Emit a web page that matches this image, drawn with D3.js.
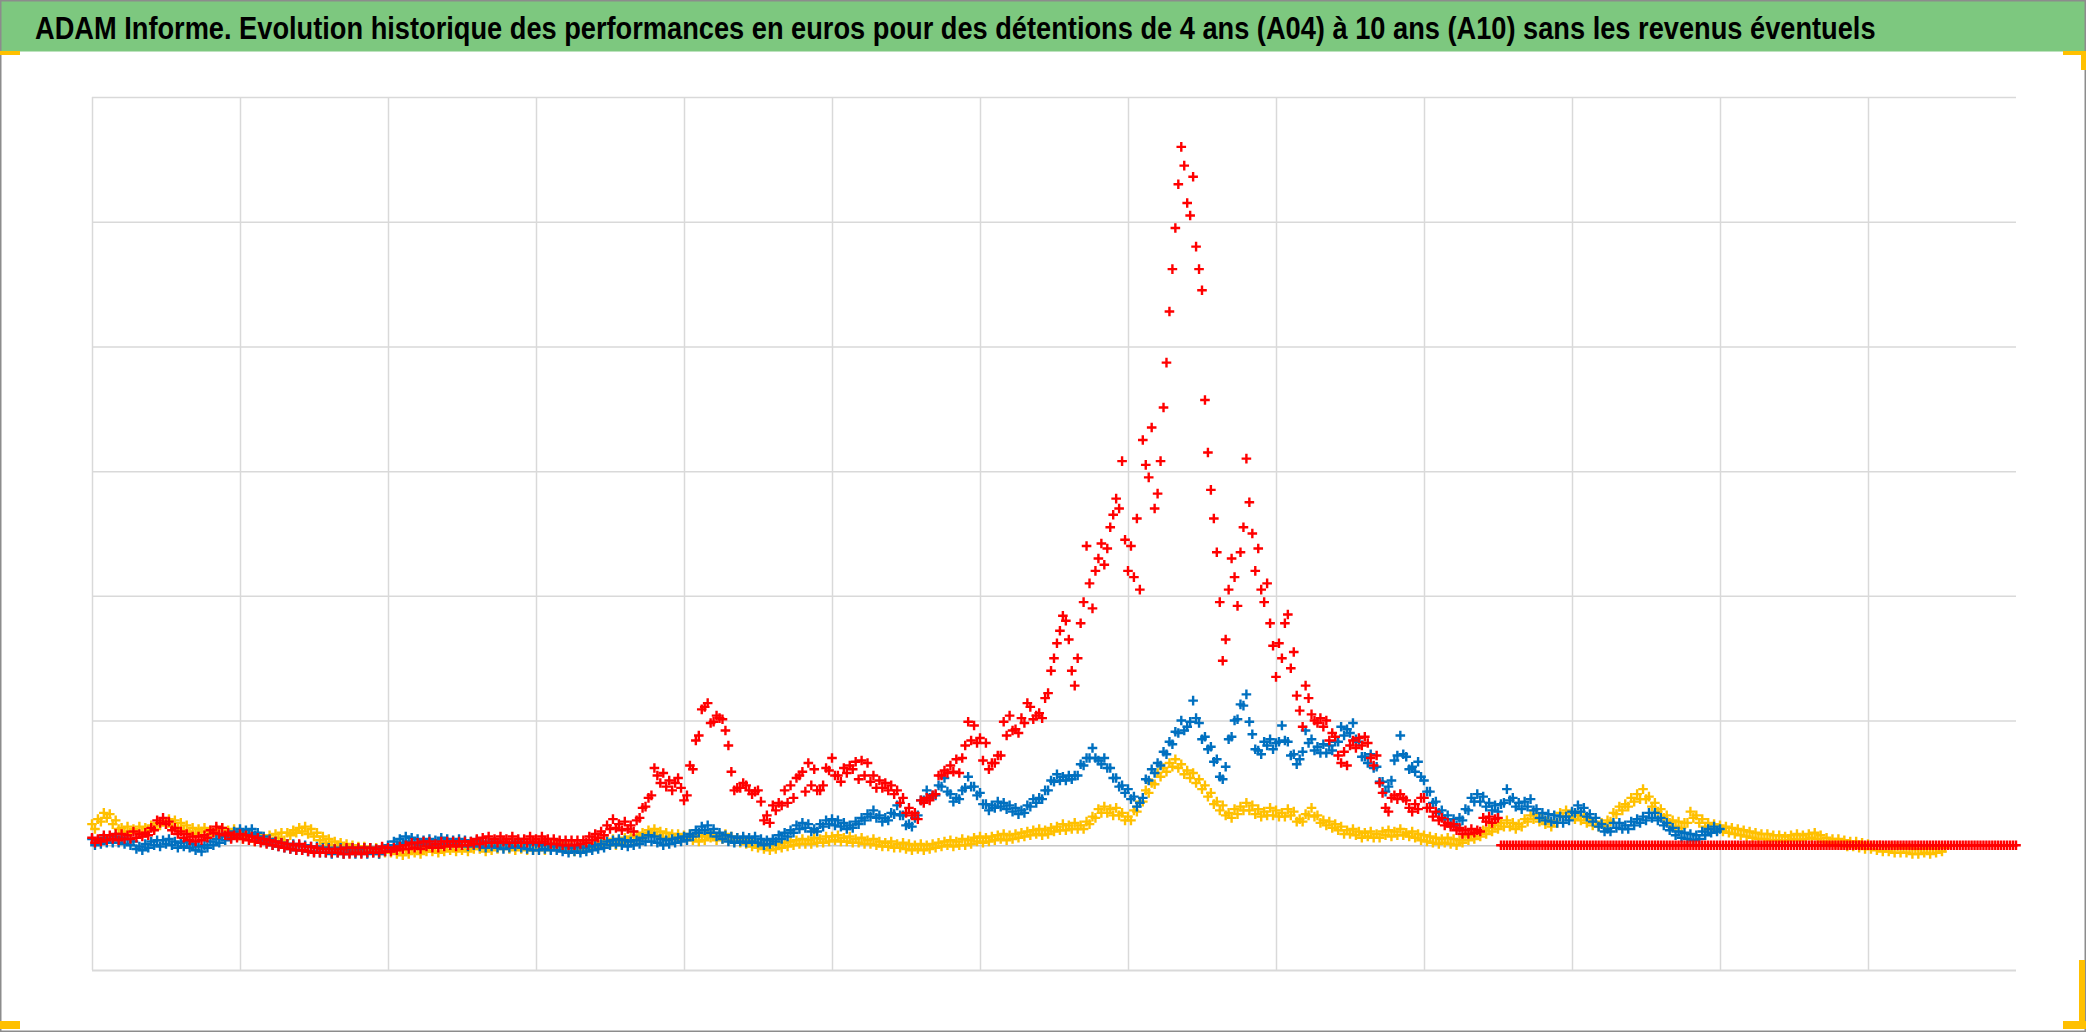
<!DOCTYPE html>
<html><head><meta charset="utf-8">
<script src="https://cdn.jsdelivr.net/npm/d3@7"></script>
<style>html,body{margin:0;padding:0;background:#fff;}svg{display:block;}</style>
</head><body>
<svg id="chart" width="2086" height="1032"></svg>
<script>
const title = "ADAM Informe. Evolution historique des performances en euros pour des détentions de 4 ans (A04) à 10 ans (A10) sans les revenus éventuels";
const xTicks = [0,1,2,3,4,5,6,7,8,9,10,11,12];
const yTicks = [-1,0,1,2,3,4,5,6];
const seriesNames = ["A04","A07","A10"];
const seriesSteps = [0.02, 0.02, 0.02];

const yellowValues = [
0.17,0.13,0.21,0.19,0.26,0.22,0.25,0.17,0.20,0.13,0.14,0.11,0.15,0.10,0.13,0.10,0.15,0.10,0.14,0.12,0.16,0.13,0.18,0.16,0.19,0.17,0.21,0.15,0.20,0.14,0.18,0.12,0.16,0.11,0.14,0.09,0.13,0.11,0.14,0.08,0.12,0.10,0.13,0.08,0.14,0.09,0.12,0.10,0.13,0.07,
0.11,0.05,0.10,0.07,0.09,0.03,0.08,0.05,0.07,0.04,0.08,0.03,0.09,0.06,0.10,0.04,0.10,0.08,0.12,0.10,0.14,0.11,0.15,0.09,0.13,0.07,0.10,0.04,0.07,0.02,0.05,0.00,0.03,-0.01,0.02,-0.03,0.01,-0.04,0.00,-0.05,-0.01,-0.04,-0.01,-0.06,-0.02,-0.05,-0.02,-0.07,-0.03,-0.06,
-0.03,-0.06,-0.04,-0.07,-0.03,-0.08,-0.04,-0.07,-0.03,-0.06,-0.02,-0.07,-0.03,-0.05,-0.02,-0.05,-0.01,-0.06,-0.02,-0.05,-0.01,-0.04,0.00,-0.05,-0.01,-0.04,0.00,-0.05,-0.01,-0.03,0.00,-0.03,0.00,-0.05,0.01,-0.04,0.00,-0.03,0.01,-0.02,0.02,-0.03,0.01,-0.04,0.00,-0.03,0.01,-0.04,0.01,-0.04,
0.00,-0.03,0.01,-0.04,0.00,-0.03,0.01,-0.02,0.02,-0.03,0.01,-0.04,0.00,-0.05,-0.01,-0.04,0.00,-0.03,0.01,-0.02,0.02,-0.01,0.03,0.00,0.04,0.01,0.05,0.00,0.04,0.02,0.06,0.03,0.07,0.04,0.08,0.05,0.10,0.07,0.12,0.10,0.13,0.08,0.11,0.06,0.10,0.05,0.09,0.06,0.09,0.04,
0.08,0.05,0.09,0.04,0.08,0.03,0.07,0.04,0.08,0.06,0.09,0.04,0.08,0.05,0.09,0.04,0.07,0.03,0.06,0.02,0.05,0.01,0.04,-0.01,0.02,-0.02,0.01,-0.03,0.00,-0.04,0.00,-0.03,0.01,-0.02,0.02,-0.01,0.03,0.00,0.04,0.01,0.05,0.01,0.04,0.01,0.06,0.02,0.05,0.02,0.07,0.03,
0.07,0.04,0.08,0.03,0.06,0.03,0.07,0.02,0.05,0.02,0.06,0.01,0.04,0.01,0.05,0.00,0.03,-0.01,0.02,-0.01,0.03,-0.02,0.01,-0.02,0.02,-0.03,0.01,-0.04,0.00,-0.03,0.01,-0.04,0.00,-0.03,0.01,-0.02,0.02,-0.01,0.03,0.00,0.04,-0.01,0.03,0.00,0.05,0.00,0.04,0.01,0.06,0.03,
0.07,0.02,0.06,0.03,0.07,0.04,0.08,0.05,0.09,0.04,0.08,0.05,0.09,0.06,0.10,0.07,0.11,0.08,0.12,0.09,0.13,0.08,0.12,0.09,0.14,0.11,0.15,0.12,0.17,0.12,0.16,0.13,0.18,0.13,0.16,0.13,0.19,0.17,0.23,0.22,0.29,0.26,0.31,0.26,0.29,0.24,0.30,0.24,0.26,0.20,
0.23,0.20,0.28,0.27,0.35,0.35,0.44,0.42,0.50,0.49,0.58,0.55,0.62,0.59,0.66,0.63,0.69,0.62,0.65,0.57,0.60,0.54,0.58,0.50,0.53,0.45,0.48,0.39,0.42,0.33,0.35,0.28,0.32,0.24,0.26,0.22,0.29,0.25,0.31,0.28,0.34,0.28,0.32,0.25,0.29,0.23,0.27,0.24,0.30,0.24,
0.28,0.23,0.26,0.23,0.29,0.24,0.27,0.19,0.21,0.19,0.25,0.24,0.30,0.23,0.24,0.18,0.20,0.16,0.19,0.14,0.17,0.12,0.15,0.09,0.12,0.09,0.13,0.08,0.11,0.06,0.10,0.07,0.11,0.06,0.09,0.06,0.11,0.08,0.12,0.07,0.11,0.08,0.13,0.08,0.10,0.07,0.11,0.06,0.09,0.04,
0.08,0.03,0.07,0.02,0.06,0.01,0.05,0.02,0.06,0.01,0.05,0.00,0.04,0.02,0.07,0.04,0.08,0.05,0.10,0.07,0.12,0.09,0.14,0.11,0.16,0.13,0.18,0.15,0.20,0.15,0.18,0.13,0.17,0.15,0.21,0.19,0.24,0.21,0.25,0.19,0.22,0.17,0.20,0.15,0.19,0.18,0.26,0.23,0.28,0.23,
0.26,0.21,0.24,0.20,0.23,0.18,0.21,0.16,0.19,0.15,0.18,0.15,0.20,0.19,0.26,0.25,0.31,0.28,0.33,0.31,0.38,0.35,0.41,0.37,0.45,0.37,0.39,0.31,0.34,0.27,0.29,0.22,0.24,0.18,0.20,0.15,0.19,0.14,0.18,0.18,0.27,0.22,0.24,0.18,0.21,0.15,0.18,0.13,0.17,0.12,
0.16,0.11,0.15,0.10,0.14,0.09,0.13,0.08,0.12,0.07,0.11,0.06,0.10,0.05,0.09,0.05,0.09,0.04,0.08,0.04,0.08,0.03,0.07,0.04,0.08,0.05,0.09,0.04,0.08,0.05,0.09,0.06,0.10,0.05,0.08,0.03,0.06,0.02,0.05,0.01,0.05,0.00,0.04,-0.01,0.03,-0.01,0.03,-0.02,0.02,-0.03,
0.01,-0.03,0.00,-0.04,0.00,-0.05,-0.01,-0.05,-0.01,-0.06,-0.01,-0.06,-0.02,-0.06,-0.02,-0.07,-0.03,-0.07,-0.03,-0.06,-0.02,-0.07,-0.03,-0.06,-0.01,-0.05,-0.02
];

const blueValues = [
0.05,0.00,0.04,0.01,0.06,0.02,0.05,0.02,0.07,0.02,0.06,0.01,0.05,0.00,0.03,-0.03,-0.01,-0.04,0.01,-0.02,0.03,0.00,0.04,-0.01,0.04,0.01,0.05,0.00,0.03,-0.02,0.02,-0.01,0.03,-0.02,0.01,-0.04,-0.01,-0.05,0.00,-0.02,0.03,0.00,0.05,0.02,0.07,0.04,0.09,0.06,0.11,0.08,
0.13,0.09,0.12,0.09,0.13,0.08,0.10,0.04,0.07,0.02,0.05,0.00,0.03,-0.01,0.02,-0.02,0.01,-0.03,0.01,-0.04,0.00,-0.04,0.00,-0.05,-0.01,-0.05,-0.01,-0.06,-0.02,-0.06,-0.02,-0.07,-0.03,-0.06,-0.02,-0.07,-0.03,-0.06,-0.02,-0.07,-0.03,-0.06,-0.02,-0.07,-0.02,-0.06,-0.03,-0.07,-0.02,-0.05,
0.00,-0.03,0.03,0.00,0.05,0.02,0.07,0.03,0.06,0.01,0.05,0.00,0.04,0.01,0.05,0.00,0.04,0.01,0.06,0.01,0.05,0.00,0.04,0.01,0.05,0.00,0.04,-0.01,0.03,0.00,0.04,-0.01,0.03,-0.02,0.02,-0.01,0.03,-0.02,0.02,-0.03,0.01,-0.02,0.02,-0.01,0.03,-0.02,0.02,-0.03,0.01,-0.04,
0.01,-0.04,0.00,-0.03,0.01,-0.04,-0.01,-0.04,0.00,-0.05,-0.01,-0.06,-0.02,-0.05,-0.01,-0.06,-0.02,-0.05,-0.01,-0.04,0.00,-0.03,0.01,-0.02,0.03,0.00,0.04,0.01,0.05,0.00,0.04,-0.01,0.03,0.00,0.04,0.01,0.06,0.03,0.08,0.03,0.07,0.02,0.05,0.00,0.04,0.01,0.05,0.02,0.06,0.03,
0.07,0.04,0.09,0.07,0.12,0.10,0.15,0.12,0.16,0.10,0.13,0.07,0.10,0.05,0.08,0.03,0.07,0.02,0.06,0.03,0.07,0.02,0.06,0.03,0.07,0.02,0.05,0.00,0.04,0.01,0.05,0.03,0.08,0.05,0.10,0.07,0.12,0.10,0.16,0.13,0.18,0.14,0.17,0.11,0.13,0.11,0.17,0.15,0.20,0.17,
0.21,0.16,0.20,0.15,0.18,0.13,0.16,0.14,0.19,0.17,0.22,0.20,0.25,0.23,0.28,0.22,0.24,0.19,0.22,0.20,0.26,0.25,0.32,0.24,0.24,0.16,0.17,0.15,0.22,0.24,0.36,0.36,0.44,0.38,0.40,0.40,0.48,0.47,0.54,0.43,0.41,0.35,0.38,0.37,0.44,0.46,0.55,0.47,0.47,0.40,
0.42,0.33,0.33,0.28,0.32,0.30,0.35,0.31,0.34,0.29,0.32,0.27,0.30,0.25,0.28,0.26,0.32,0.31,0.37,0.34,0.38,0.37,0.44,0.44,0.52,0.51,0.57,0.52,0.55,0.52,0.56,0.53,0.56,0.56,0.65,0.64,0.70,0.70,0.78,0.70,0.68,0.65,0.70,0.62,0.62,0.54,0.54,0.47,0.48,0.42,
0.45,0.37,0.39,0.31,0.34,0.38,0.53,0.52,0.61,0.58,0.66,0.64,0.75,0.73,0.83,0.81,0.91,0.90,1.00,0.92,0.95,0.99,1.16,1.02,0.98,0.85,0.87,0.77,0.79,0.67,0.69,0.55,0.53,0.63,0.85,0.87,1.00,1.01,1.13,1.12,1.21,0.99,0.89,0.77,0.76,0.73,0.83,0.80,0.85,0.77,
0.82,0.83,0.96,0.84,0.83,0.72,0.73,0.65,0.69,0.75,0.92,0.82,0.85,0.76,0.79,0.74,0.81,0.74,0.80,0.76,0.83,0.83,0.95,0.88,0.93,0.90,0.98,0.85,0.83,0.71,0.71,0.66,0.73,0.62,0.63,0.51,0.51,0.43,0.47,0.52,0.68,0.72,0.88,0.73,0.71,0.61,0.63,0.59,0.67,0.55,
0.52,0.43,0.43,0.34,0.35,0.26,0.28,0.21,0.24,0.17,0.21,0.16,0.22,0.20,0.29,0.28,0.38,0.35,0.41,0.35,0.39,0.31,0.34,0.28,0.32,0.27,0.33,0.34,0.45,0.36,0.38,0.31,0.34,0.29,0.35,0.31,0.37,0.28,0.29,0.22,0.26,0.20,0.25,0.19,0.24,0.18,0.23,0.18,0.23,0.20,
0.27,0.26,0.32,0.27,0.30,0.23,0.25,0.19,0.22,0.15,0.17,0.11,0.13,0.11,0.18,0.14,0.18,0.13,0.16,0.13,0.19,0.16,0.21,0.18,0.23,0.20,0.26,0.22,0.26,0.20,0.22,0.16,0.18,0.12,0.14,0.08,0.11,0.06,0.10,0.05,0.09,0.04,0.08,0.05,0.11,0.08,0.13,0.10,0.15,0.11,
0.13
];

const redValues = [
0.06,0.02,0.05,0.03,0.08,0.04,0.08,0.05,0.09,0.04,0.09,0.05,0.08,0.05,0.11,0.06,0.09,0.07,0.10,0.08,0.14,0.12,0.20,0.18,0.22,0.17,0.19,0.12,0.14,0.09,0.11,0.06,0.09,0.04,0.07,0.03,0.07,0.04,0.08,0.06,0.12,0.10,0.15,0.09,0.14,0.08,0.10,0.05,0.08,0.06,
0.09,0.05,0.08,0.04,0.07,0.03,0.06,0.02,0.05,0.01,0.04,0.00,0.03,-0.01,0.02,-0.02,0.01,-0.03,0.00,-0.04,0.01,-0.04,-0.01,-0.05,-0.01,-0.06,-0.02,-0.06,-0.03,-0.06,-0.03,-0.06,-0.03,-0.06,-0.03,-0.07,-0.02,-0.07,-0.02,-0.06,-0.02,-0.07,-0.02,-0.06,-0.02,-0.06,-0.03,-0.06,-0.01,-0.05,
-0.02,-0.05,-0.02,-0.04,-0.01,-0.03,0.00,-0.03,0.02,-0.02,0.02,-0.03,0.03,-0.01,0.03,-0.02,0.01,-0.02,0.03,-0.01,0.03,0.00,0.03,-0.01,0.03,0.00,0.03,0.00,0.03,0.01,0.05,0.01,0.06,0.02,0.07,0.02,0.05,0.02,0.07,0.03,0.05,0.02,0.07,0.02,0.05,0.02,0.05,0.02,0.07,0.03,
0.05,0.02,0.07,0.03,0.05,0.01,0.05,0.01,0.04,0.00,0.04,0.00,0.04,0.00,0.04,0.01,0.04,0.02,0.07,0.04,0.09,0.06,0.11,0.08,0.16,0.13,0.21,0.14,0.17,0.12,0.19,0.13,0.16,0.11,0.20,0.22,0.30,0.31,0.38,0.40,0.62,0.56,0.50,0.58,0.47,0.52,0.44,0.50,0.54,0.46,
0.36,0.40,0.64,0.61,0.84,0.88,1.09,1.11,1.14,0.98,0.99,1.04,1.02,1.01,0.92,0.80,0.59,0.44,0.46,0.46,0.50,0.48,0.44,0.41,0.43,0.44,0.35,0.20,0.24,0.18,0.32,0.28,0.34,0.32,0.44,0.34,0.48,0.38,0.54,0.56,0.59,0.43,0.66,0.48,0.61,0.44,0.44,0.48,0.62,0.60,
0.70,0.56,0.56,0.51,0.62,0.58,0.64,0.61,0.67,0.53,0.68,0.56,0.66,0.51,0.56,0.46,0.52,0.46,0.50,0.44,0.48,0.41,0.44,0.34,0.38,0.26,0.30,0.24,0.26,0.21,0.36,0.34,0.38,0.36,0.40,0.41,0.56,0.56,0.60,0.58,0.64,0.59,0.69,0.58,0.70,0.80,0.99,0.84,0.96,0.82,
0.86,0.68,0.82,0.61,0.66,0.66,0.72,0.72,0.99,0.88,1.04,0.92,0.93,0.90,1.02,0.98,1.14,1.11,1.01,1.04,1.06,1.02,1.18,1.22,1.40,1.50,1.62,1.72,1.84,1.80,1.65,1.40,1.28,1.50,1.78,1.95,2.40,2.10,1.90,2.20,2.30,2.42,2.25,2.38,2.55,2.65,2.78,2.70,3.08,2.45,
2.20,2.40,2.15,2.62,2.05,3.25,3.05,2.95,3.35,2.70,2.82,3.08,3.51,3.87,4.28,4.62,4.95,5.30,5.60,5.45,5.15,5.05,5.36,4.80,4.62,4.45,3.57,3.15,2.85,2.62,2.35,1.95,1.48,1.65,2.05,2.30,2.15,1.92,2.35,2.55,3.10,2.75,2.50,2.20,2.38,2.05,1.95,2.10,1.78,1.60,
1.35,1.62,1.50,1.78,1.85,1.42,1.55,1.20,1.08,0.95,1.28,1.18,1.05,1.00,0.98,1.02,0.95,1.00,0.84,0.90,0.87,0.72,0.66,0.75,0.64,0.80,0.84,0.78,0.86,0.80,0.87,0.82,0.70,0.64,0.72,0.50,0.42,0.30,0.27,0.38,0.40,0.37,0.41,0.38,0.36,0.30,0.27,0.33,0.29,0.38,
0.38,0.30,0.30,0.23,0.27,0.20,0.22,0.16,0.18,0.15,0.17,0.12,0.14,0.09,0.12,0.09,0.13,0.10,0.12,0.11,0.22,0.19,0.23,0.18,0.21,0.22,0,0,0,0,0,0,0,0,0,0,0,0,0,0,0,0,0,0,0,0,0,0,0,0,
0,0,0,0,0,0,0,0,0,0,0,0,0,0,0,0,0,0,0,0,0,0,0,0,0,0,0,0,0,0,0,0,0,0,0,0,0,0,0,0,0,0,0,0,0,0,0,0,0,0,
0,0,0,0,0,0,0,0,0,0,0,0,0,0,0,0,0,0,0,0,0,0,0,0,0,0,0,0,0,0,0,0,0,0,0,0,0,0,0,0,0,0,0,0,0,0,0,0,0,0,
0,0,0,0,0,0,0,0,0,0,0,0,0,0,0,0,0,0,0,0,0,0,0,0,0,0,0,0,0,0,0,0,0,0,0,0,0,0,0,0,0,0,0,0,0,0,0,0,0,0,
0
];

const seriesValues = [yellowValues, blueValues, redValues];
const seriesColors = ["#FFC000", "#0070C0", "#FF0000"];

const W = 2086, H = 1032;
const plot = {left: 92, right: 2016, top: 97, bottom: 970};
const svg = d3.select("#chart");

svg.append("rect").attr("x",0).attr("y",0).attr("width",W).attr("height",H).attr("fill","#fff");

// title bar
svg.append("rect").attr("x",0.5).attr("y",0.5).attr("width",W-1).attr("height",51).attr("fill","#7DC87F");
const titleText = svg.append("text")
  .attr("x",0).attr("y",0)
  .attr("font-family","'Liberation Sans Narrow','Liberation Sans',Arial,sans-serif")
  .attr("font-weight","bold").attr("font-size",31).attr("fill","#000")
  .text(title);
const natural = titleText.node().getComputedTextLength();
const sx = 1842 / natural;
titleText.attr("transform", `translate(35,39) scale(${sx},1)`);

const x = d3.scaleLinear().domain([0,13]).range([plot.left, plot.right]);
const y = d3.scaleLinear().domain([-1,6]).range([plot.bottom, plot.top]);

// gridlines
const gx = svg.append("g").attr("transform",`translate(0,${plot.bottom})`)
  .call(d3.axisBottom(x).tickValues(xTicks).tickSize(-(plot.bottom-plot.top)).tickFormat(""));
gx.select(".domain").remove();
gx.selectAll("line").attr("stroke","#D9D9D9").attr("stroke-width",1.5);

const gy = svg.append("g").attr("transform",`translate(${plot.left},0)`)
  .call(d3.axisLeft(y).tickValues(yTicks).tickSize(-(plot.right-plot.left)).tickFormat(""));
gy.select(".domain").remove();
gy.selectAll("line").attr("stroke", d => d===0 ? "#C6C6C6" : "#D9D9D9")
  .attr("stroke-width", d => d===-1 ? 2.2 : 1.5);

// series markers
const cross = "M-4.8,0H4.8M0,-4.8V4.8";
seriesValues.forEach((vals, si) => {
  const step = seriesSteps[si];
  const pts = vals.map((v,i) => ({t: i*step, v: v, s: seriesNames[si]}));
  svg.append("g").attr("class","series-"+seriesNames[si])
    .selectAll("path").data(pts).join("path")
    .attr("d", cross)
    .attr("transform", d => `translate(${x(d.t).toFixed(2)},${y(d.v).toFixed(2)})`)
    .attr("fill","none").attr("stroke", seriesColors[si]).attr("stroke-width", 2.4);
});

// outer border
svg.append("rect").attr("x",0.75).attr("y",0.75).attr("width",W-1.5).attr("height",H-1.5)
  .attr("fill","none").attr("stroke","#8C8C8C").attr("stroke-width",1.5);

// corner handles
const gold = "#FFC000";
const handles = [[0,51,20,4],[2063,51,23,4],[2081,51,5,19],[0,1021,20,8],[2063,1021,23,8],[2079,960,6,69]];
svg.append("g").selectAll("rect").data(handles).join("rect")
  .attr("x",d=>d[0]).attr("y",d=>d[1]).attr("width",d=>d[2]).attr("height",d=>d[3]).attr("fill",gold);
</script>
</body></html>
